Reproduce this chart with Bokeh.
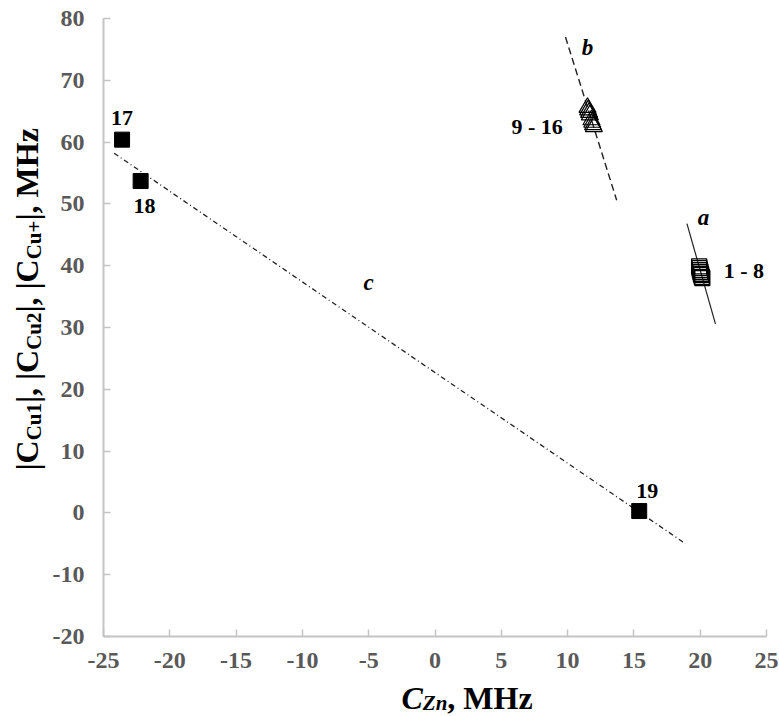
import math
from bokeh.plotting import figure
from bokeh.layouts import row, column
from bokeh.models import Range1d, FixedTicker, LabelSet, ColumnDataSource
from bokeh.core.properties import value
from bokeh.embed import file_html
from bokeh.resources import INLINE

# ---------------- data ----------------
# points 17, 18, 19 (filled squares)
zn_single = [-23.6, -22.2, 15.4]
cu_single = [60.4, 53.7, 0.3]

# points 9 - 16 (open triangles)
zn_tri = [11.50, 11.55, 11.62, 11.68, 11.80, 11.86, 11.92, 11.98]
cu_tri = [65.6, 65.2, 64.8, 64.4, 63.6, 63.2, 62.8, 62.5]

# points 1 - 8 (open squares)
zn_sq = [19.92, 19.95, 19.98, 20.02, 20.05, 20.08, 20.12, 20.16]
cu_sq = [39.9, 39.6, 39.3, 39.0, 38.7, 38.5, 38.2, 38.0]

# fitted lines a, b, c
line_a_x = [19.0, 21.15]
line_a_y = [46.8, 30.6]
line_b_x = [9.84, 13.7]
line_b_y = [77.0, 50.6]
line_c_x = [-24.2, 18.9]
line_c_y = [58.2, -5.0]

# annotations
pt_text = ["17", "18", "19", "9 - 16", "1 - 8"]
pt_x = [-23.6, -21.9, 16.0, 7.7, 23.3]
pt_y = [63.9, 49.6, 3.6, 62.5, 39.2]

ln_text = ["a", "b", "c"]
ln_x = [20.25, 11.5, -5.0]
ln_y = [47.8, 75.3, 37.3]

x_ticks = [-25, -20, -15, -10, -5, 0, 5, 10, 15, 20, 25]
y_ticks = [-20, -10, 0, 10, 20, 30, 40, 50, 60, 70, 80]

# axis titles (pieces: text, flag)
y_title = [("|C", False), ("Cu1", True), ("|, |C", False), ("Cu2", True),
           ("|, |C", False), ("Cu+", True), ("|, MHz", False)]
x_title = [("C", True), ("Zn", True), (", MHz", False)]

# ---------------- layout ----------------
SERIF = "Liberation Serif"
TW, TH = 779, 716
LW = 48                  # width of the y-title strip
BH = 36                  # height of the x-title strip
MW, MH = TW - LW, TH - BH
PX0, PX1, PY0, PY1 = 103, 766, 18, 636   # frame edges on the page
BL, BR, BT, BB = PX0 - LW, TW - PX1, PY0, MH - PY1
XMIN, XMAX, YMIN, YMAX = -25, 25, -20, 80

def dx(px):
    return XMIN + (px - PX0) / (PX1 - PX0) * (XMAX - XMIN)

def dy(py):
    return YMAX - (py - PY0) / (PY1 - PY0) * (YMAX - YMIN)

p = figure(width=MW, height=MH, output_backend="svg", toolbar_location=None,
           x_range=Range1d(XMIN, XMAX), y_range=Range1d(YMIN, YMAX),
           min_border_left=BL, min_border_right=BR, min_border_top=BT,
           min_border_bottom=BB)
p.outline_line_color = None
p.grid.visible = False

for ax, ticks in ((p.xaxis, x_ticks), (p.yaxis, y_ticks)):
    ax.ticker = FixedTicker(ticks=ticks)
    ax.major_label_overrides = {t: str(t) for t in ticks}
    ax.axis_line_color = "#c4c4c4"
    ax.axis_line_width = 2
    ax.major_tick_line_color = "#c4c4c4"
    ax.major_tick_line_width = 1.5
    ax.major_tick_in = 7
    ax.major_tick_out = 0
    ax.minor_tick_line_color = None
    ax.major_label_text_font = SERIF
    ax.major_label_text_font_style = "bold"
    ax.major_label_text_font_size = "24px"
    ax.major_label_text_color = "#595959"
p.xaxis.major_label_standoff = 16
p.yaxis.major_label_standoff = 19

# lines
p.line(line_a_x, line_a_y, line_color="#222222", line_width=1.2)
p.line(line_b_x, line_b_y, line_color="#222222", line_width=1.4, line_dash="7 4")
p.line(line_c_x, line_c_y, line_color="#222222", line_width=1.3, line_dash="5 3 1 3")

# markers
p.scatter(zn_sq, cu_sq, marker="square", size=15, fill_color=None,
          line_color="black", line_width=1.3)
p.scatter(zn_tri, cu_tri, marker="triangle", size=17, fill_color=None,
          line_color="black", line_width=1.2)
p.scatter(zn_single, cu_single, marker="square", size=15, fill_color="black",
          line_color="black")

# point labels
src_pt = ColumnDataSource(dict(x=pt_x, y=pt_y, t=pt_text))
p.add_layout(LabelSet(x="x", y="y", text="t", source=src_pt, text_align="center",
                      text_baseline="middle", text_font=SERIF, text_font_style="bold",
                      text_font_size="22px", text_color="black"))
src_ln = ColumnDataSource(dict(x=ln_x, y=ln_y, t=ln_text))
p.add_layout(LabelSet(x="x", y="y", text="t", source=src_ln, text_align="center",
                      text_baseline="middle", text_font=SERIF,
                      text_font_style="bold italic",
                      text_font_size="23px", text_color="black"))

# ---------- text metrics ----------
BIG, SMALL = 32, 21
EM = {'|': 220, 'C': 722, ',': 250, ' ': 250, 'M': 944, 'H': 778, 'z': 444,
      'u': 556, '1': 500, '2': 500, '+': 570}
EMI = {'C': 667, 'Z': 611, 'n': 556}
SHIFT = 0.34   # renderer's baseline offset, in em

def width(s, size, em=EM):
    return sum(em[c] for c in s) / 1000 * size

# ---------- y-axis title strip (shares the y scale) ----------
left = figure(width=LW, height=MH, output_backend="svg", toolbar_location=None,
              x_range=Range1d(0, LW), y_range=p.y_range,
              x_axis_type=None, y_axis_type=None, title=None,
              min_border_left=0, min_border_right=0,
              min_border_top=BT, min_border_bottom=BB)
left.outline_line_color = None
left.grid.visible = False

start_y = 470.0   # page px where the title begins (bottom)
base_x = 37.0     # wanted baseline, page px
cum = 0.0
for txt, sub in y_title:
    size = SMALL if sub else BIG
    bx = base_x + (3.5 if sub else 0) - SHIFT * size
    left.text(x=[bx], y=[dy(start_y - cum)], text=[txt], angle=math.pi / 2,
              text_align="left", text_baseline="alphabetic",
              text_font=value(SERIF), text_font_style="bold",
              text_font_size=value(f"{size}px"), text_color="black")
    cum += width(txt, size)

# ---------- x-axis title strip (shares the x scale) ----------
bottom = figure(width=TW, height=BH, output_backend="svg", toolbar_location=None,
                x_range=p.x_range, y_range=Range1d(0, BH),
                x_axis_type=None, y_axis_type=None, title=None,
                min_border_left=PX0, min_border_right=BR,
                min_border_top=0, min_border_bottom=0)
bottom.outline_line_color = None
bottom.grid.visible = False

cx = 401.0
base_page_y = 708.0
for i, (txt, ital) in enumerate(x_title):
    sub = (i == 1)
    size = SMALL if sub else BIG
    by = base_page_y + (1.5 if sub else 0) - SHIFT * size
    bottom.text(x=[dx(cx)], y=[TH - by], text=[txt],
                text_align="left", text_baseline="alphabetic",
                text_font=value(SERIF),
                text_font_style="bold italic" if ital else "bold",
                text_font_size=value(f"{size}px"), text_color="black")
    cx += width(txt, size, EMI if ital else EM)

layout = column(row(left, p), bottom)
open("out.html", "w").write(file_html(layout, INLINE))
